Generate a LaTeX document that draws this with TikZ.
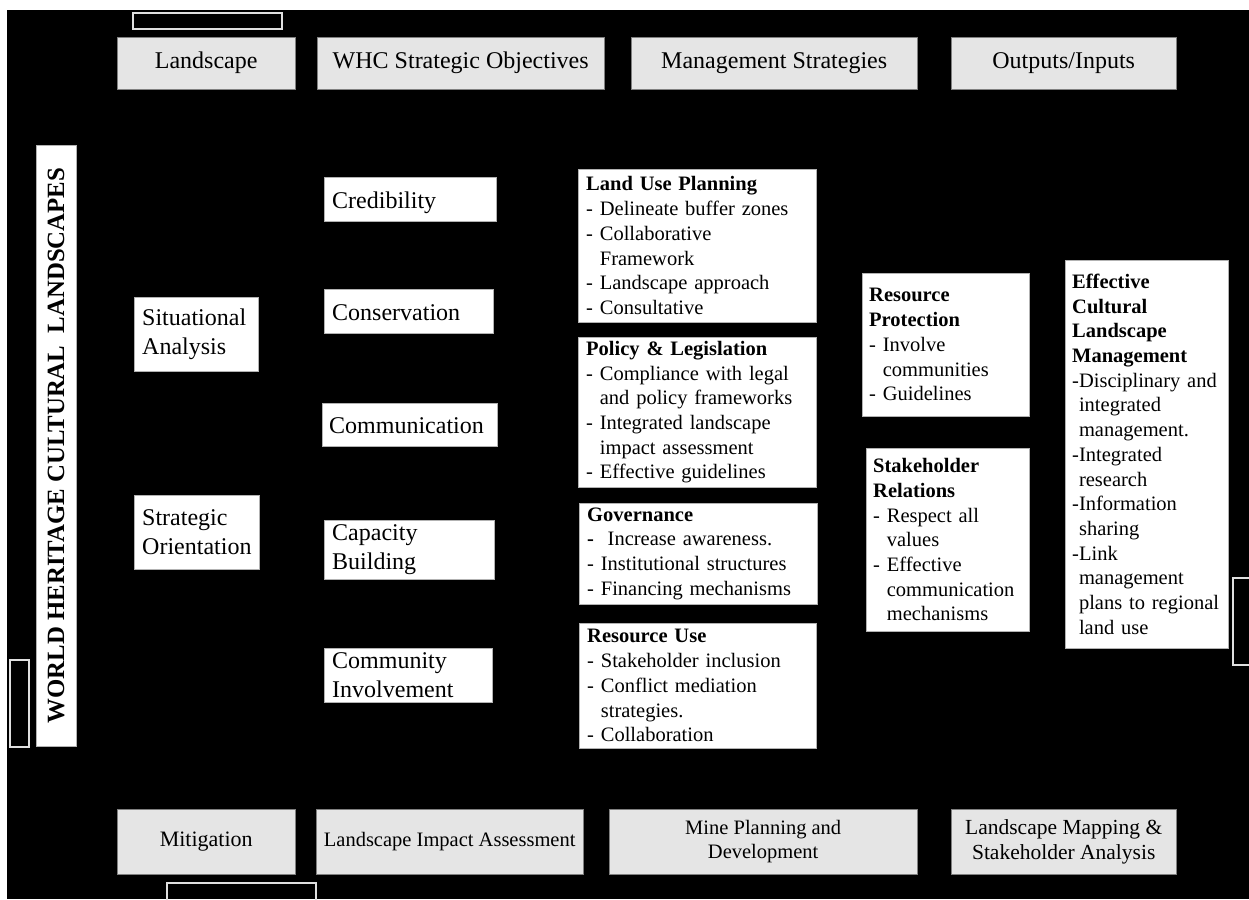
\documentclass[tikz,border=0pt]{standalone}
\usepackage{fontspec}
\setmainfont{Liberation Serif}
\usepackage{tikz}

\begin{document}
\begin{tikzpicture}[x=1pt, y=-1pt,
  hdr/.style={draw=gray, fill=black!10, anchor=north west, inner sep=0pt, align=center, font=\fontsize{24}{28}\selectfont},
  ftr/.style={hdr, font=\fontsize{20.5}{24.5}\selectfont},
  lbl/.style={draw=gray!60, fill=white, anchor=north west, inner xsep=8pt, inner ysep=0pt, align=left, font=\fontsize{24}{29}\selectfont},
  one/.style={lbl, text height=23pt, text depth=5pt},
  lst/.style={lbl, font=\fontsize{20.5}{24.7}\selectfont},
  blank/.style={draw=black!12, line width=1.3pt}]
\useasboundingbox (0,0) rectangle (1249,899);
% Background
\fill[white] (0,0) rectangle (1249,899);
\fill[black] (7,10) rectangle (1249,899);
% Empty frames
\draw[blank] (133,13) rectangle (282,29);
\draw[blank] (10,660) rectangle (29,747);
\draw[blank] (167,883) rectangle (316,910);
\draw[blank] (1233,578) rectangle (1260,665);
% Headers
\node[hdr, minimum width=178pt, minimum height=52pt] (land) at (117,37) {Landscape};
\node[hdr, minimum width=287pt, minimum height=52pt] (whc) at (317,37) {WHC Strategic Objectives};
\node[hdr, minimum width=286pt, minimum height=52pt] (mgmt) at (631,37) {Management Strategies};
\node[hdr, minimum width=225pt, minimum height=52pt] (outin) at (951,37) {Outputs/Inputs};
% Footers
\node[ftr, minimum width=178pt, minimum height=65pt, font=\fontsize{22}{26}\selectfont] (mitig) at (117,809) {Mitigation};
\node[ftr, minimum width=267pt, minimum height=65pt] (lia) at (316,809) {Landscape Impact Assessment};
\node[ftr, minimum width=308pt, minimum height=65pt] (mine) at (609,809) {Mine Planning and\\Development};
\node[ftr, minimum width=225pt, minimum height=65pt, font=\fontsize{21.5}{25}\selectfont] (lmsa) at (951,809) {Landscape Mapping \&\\Stakeholder Analysis};
% Title bar
\node[lbl, anchor=center, align=center, rotate=90, inner sep=0pt, minimum width=601pt, minimum height=40pt, font=\fontsize{24.8}{28}\selectfont\bfseries] (whcl) at (56,445.5) {WORLD HERITAGE CULTURAL~ LANDSCAPES};
% Landscape column
\node[lbl, minimum width=124pt, minimum height=74pt, text width=108pt] (sit) at (134,297) {Situational\\Analysis};
\node[lbl, minimum width=125pt, minimum height=74pt, text width=109pt] (strat) at (134,495) {Strategic\\Orientation};
% Objectives column
\node[one, minimum width=172pt, minimum height=44pt, text width=156pt] (cred) at (324,177) {Credibility};
\node[one, minimum width=169pt, minimum height=44pt, text width=153pt] (cons) at (324,289) {Conservation};
\node[one, minimum width=175pt, minimum height=43pt, text width=161pt, inner xsep=7pt] (comm) at (322,403) {Communication};
\node[lbl, minimum width=170pt, minimum height=59pt, text width=154pt] (cap) at (324,520) {Capacity\\Building};
\node[lbl, minimum width=168pt, minimum height=54pt, text width=152pt] (inv) at (324,648) {Community\\Involvement};
% Strategies column
\node[lst, minimum width=238pt, minimum height=153pt, text width=222pt] (lup) at (578,169) {\textbf{Land Use Planning}\\- Delineate buffer zones\\- Collaborative\\\phantom{- }Framework\\- Landscape approach\\- Consultative};
\node[lst, minimum width=238pt, minimum height=150pt, text width=222pt] (pol) at (578,337) {\textbf{Policy \& Legislation}\\- Compliance with legal\\\phantom{- }and policy frameworks\\- Integrated landscape\\\phantom{- }impact assessment\\- Effective guidelines};
\node[lst, minimum width=238pt, minimum height=101pt, text width=222pt] (gov) at (579,503) {\textbf{Governance}\\\textbf{-}\ \ Increase awareness.\\- Institutional structures\\- Financing mechanisms};
\node[lst, minimum width=237pt, minimum height=125pt, text width=221pt] (ruse) at (579,623) {\textbf{Resource Use}\\- Stakeholder inclusion\\- Conflict mediation\\\phantom{- }strategies.\\- Collaboration};
% Outputs column
\node[lst, minimum width=167pt, minimum height=143pt, text width=153pt, inner xsep=7pt] (rprot) at (862,273) {\textbf{Resource}\\\textbf{Protection}\\- Involve\\\phantom{- }communities\\- Guidelines};
\node[lst, minimum width=163pt, minimum height=183pt, text width=149pt, inner xsep=7pt] (srel) at (866,448) {\textbf{Stakeholder}\\\textbf{Relations}\\- Respect all\\\phantom{- }values\\- Effective\\\phantom{- }communication\\\phantom{- }mechanisms};
\node[lst, minimum width=163pt, minimum height=388pt, text width=149pt, inner xsep=7pt] (eclm) at (1065,260) {\textbf{Effective}\\\textbf{Cultural}\\\textbf{Landscape}\\\textbf{Management}\\-Disciplinary and\\\phantom{-}integrated\\\phantom{-}management.\\-Integrated\\\phantom{-}research\\-Information\\\phantom{-}sharing\\-Link\\\phantom{-}management\\\phantom{-}plans to regional\\\phantom{-}land use};
\end{tikzpicture}
\end{document}
